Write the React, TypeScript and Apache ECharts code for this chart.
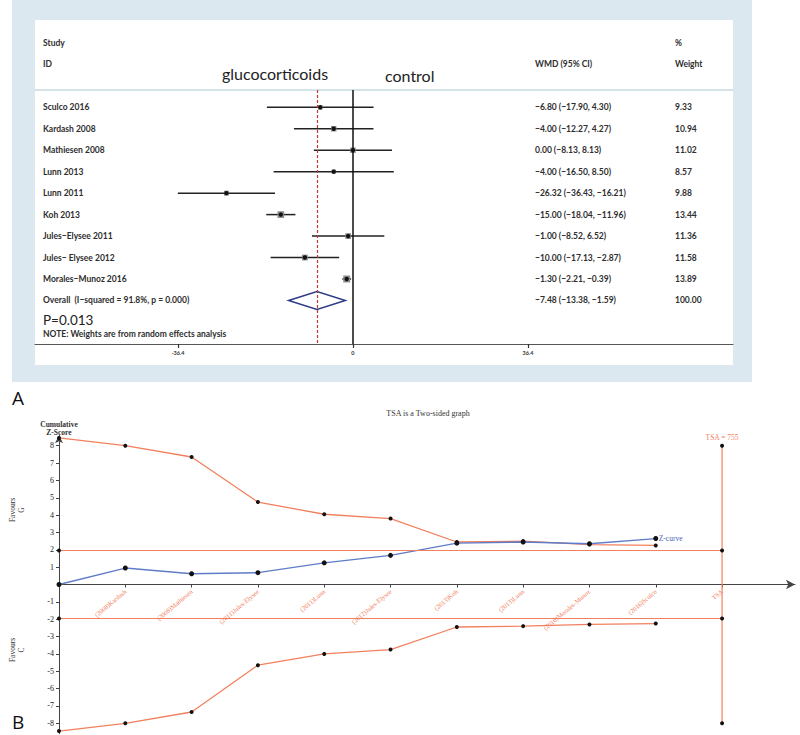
import React, { useEffect, useRef } from 'react';
import * as echarts from 'echarts';

// ---------- Panel A: forest plot data ----------
const studies = [
  'Sculco 2016',
  'Kardash 2008',
  'Mathiesen 2008',
  'Lunn 2013',
  'Lunn 2011',
  'Koh 2013',
  'Jules−Elysee 2011',
  'Jules− Elysee 2012',
  'Morales−Munoz 2016',
];
const estimates = [-6.8, -4.0, 0.0, -4.0, -26.32, -15.0, -1.0, -10.0, -1.3];
const ciLow = [-17.9, -12.27, -8.13, -16.5, -36.43, -18.04, -8.52, -17.13, -2.21];
const ciHigh = [4.3, 4.27, 8.13, 8.5, -16.21, -11.96, 6.52, -2.87, -0.39];
const weights = [9.33, 10.94, 11.02, 8.57, 9.88, 13.44, 11.36, 11.58, 13.89];
const overallLabel = 'Overall  (I−squared = 91.8%, p = 0.000)';
const overallEst = -7.48;
const overallLow = -13.38;
const overallHigh = -1.59;
const overallWeight = 100.0;
const forestTicks = [-36.4, 0, 36.4];

// ---------- Panel B: TSA data ----------
const tsaCategories = [
  '(2008)Kardash',
  '(2008)Mathiesen',
  '(2011)Jules-Elysee',
  '(2011)Lunn',
  '(2012)Jules-Elysee',
  '(2013)Koh',
  '(2013)Lunn',
  '(2016)Morales-Munoz',
  '(2016)Sculco',
  'TSA',
];
const upperBoundary = [8.45, 8.0, 7.35, 4.75, 4.05, 3.8, 2.45, 2.5, 2.3, 2.25];
const lowerBoundary = [-8.45, -8.0, -7.35, -4.65, -4.0, -3.75, -2.45, -2.4, -2.3, -2.25];
const zCurve = [0, 0.95, 0.62, 0.68, 1.25, 1.68, 2.38, 2.45, 2.35, 2.65];
const conventionalZ = 1.96;
const tsaIndex = 10;
const tsaBoundary = 8;
const tsaText = 'TSA = 755';
const zTicks = [-8, -7, -6, -5, -4, -3, -2, -1, 1, 2, 3, 4, 5, 6, 7, 8];

// ---------- helpers ----------
const fmt = (v: number) => (v < 0 ? '−' + Math.abs(v).toFixed(2) : v.toFixed(2));
const rowLabels = [...studies, overallLabel];
const wmdLabels = [
  ...estimates.map((e, i) => `${fmt(e)} (${fmt(ciLow[i])}, ${fmt(ciHigh[i])})`),
  `${fmt(overallEst)} (${fmt(overallLow)}, ${fmt(overallHigh)})`,
];
const weightLabels = [...weights, overallWeight].map((w) => w.toFixed(2));

const ROW_MIN = -0.806;
const ROW_MAX = 11.03;
const RED = '#f2805e';
const BLUE = '#5f7cc8';
const SERIF = 'Liberation Serif';

// TSA grid geometry
const TSA_TOP = 435.3;
const TSA_BOTTOM_Y = 733.7;
const Z_MIN = -8.6;
const Z_MAX = 8.6;
const zeroOffset = -((TSA_BOTTOM_Y - TSA_TOP) * (0 - Z_MIN)) / (Z_MAX - Z_MIN);

const boldSans = { fontFamily: 'Lato', fontWeight: 'bold' as const, fontSize: 8.5, color: '#2e2e2e' };

const textAxis = (gridIndex: number, labels: string[]) => ({
  type: 'value',
  gridIndex,
  position: 'right',
  min: ROW_MIN,
  max: ROW_MAX,
  inverse: true,
  axisLine: { show: false },
  axisTick: { show: false },
  splitLine: { show: false },
  axisLabel: {
    show: true,
    customValues: labels.map((_, i) => i),
    formatter: (v: number) => labels[Math.round(v)] ?? '',
    margin: 8,
    align: 'left',
    ...boldSans,
  },
});

const hiddenX = (gridIndex: number) => ({ type: 'value', gridIndex, show: false, min: 0, max: 1 });

const gtext = (x: number, y: number, text: string, style: any = {}, extra: any = {}) => ({
  type: 'text',
  x,
  y,
  z: 5,
  ...extra,
  style: {
    text,
    fill: '#2e2e2e',
    fontFamily: 'Lato',
    fontWeight: 'bold',
    fontSize: 8.5,
    align: 'left',
    verticalAlign: 'middle',
    ...style,
  },
});

function buildOption(): any {
  return {
    animation: false,
    title: {
      text: 'TSA is a Two-sided graph',
      left: 423,
      top: 404,
      textAlign: 'center',
      textStyle: { fontSize: 8, fontFamily: SERIF, fontWeight: 'normal', color: '#333' },
    },
    grid: [
      { left: 35, right: 67, top: 90, bottom: 391, outerBoundsMode: 'none', containLabel: false },
      { left: 0, width: 35, top: 90, bottom: 391, outerBoundsMode: 'none', containLabel: false },
      { left: 400, width: 127, top: 90, bottom: 391, outerBoundsMode: 'none', containLabel: false },
      { left: 600, width: 67, top: 90, bottom: 391, outerBoundsMode: 'none', containLabel: false },
      { left: 59, right: 5, top: TSA_TOP, bottom: 735 - TSA_BOTTOM_Y, outerBoundsMode: 'none', containLabel: false },
    ],
    xAxis: [
      {
        type: 'value',
        gridIndex: 0,
        min: -66.14,
        max: 79.06,
        axisLine: { show: true, onZero: false, lineStyle: { color: '#555', width: 1.2 } },
        axisTick: { show: true, customValues: forestTicks, length: 4, lineStyle: { color: '#333', width: 1.2 } },
        axisLabel: { show: true, customValues: forestTicks, fontSize: 5.5, color: '#333', margin: 6, fontFamily: 'Lato', fontWeight: 'bold' },
        splitLine: { show: false },
      },
      hiddenX(1),
      hiddenX(2),
      hiddenX(3),
      {
        type: 'value',
        gridIndex: 4,
        min: 0,
        max: 11.1,
        position: 'bottom',
        offset: zeroOffset,
        axisLine: {
          show: true,
          onZero: false,
          symbol: ['none', 'arrow'],
          symbolSize: [7, 9],
          lineStyle: { color: '#444', width: 1 },
        },
        axisTick: { show: true, customValues: tsaCategories.map((_, i) => i + 1), length: 3, lineStyle: { color: '#444' } },
        axisLabel: {
          show: true,
          customValues: tsaCategories.map((_, i) => i + 1),
          formatter: (v: number) => tsaCategories[Math.round(v) - 1] ?? '',
          rotate: 40,
          color: RED,
          fontSize: 6.5,
          fontFamily: SERIF,
          margin: 6,
        },
        splitLine: { show: false },
      },
    ],
    yAxis: [
      { type: 'value', gridIndex: 0, min: ROW_MIN, max: ROW_MAX, inverse: true, show: false },
      textAxis(1, rowLabels),
      textAxis(2, wmdLabels),
      textAxis(3, weightLabels),
      {
        type: 'value',
        gridIndex: 4,
        min: Z_MIN,
        max: Z_MAX,
        axisLine: {
          show: true,
          onZero: false,
          symbol: ['none', 'arrow'],
          symbolSize: [6, 8],
          lineStyle: { color: '#444', width: 1 },
        },
        axisTick: { show: true, customValues: zTicks, length: 3, lineStyle: { color: '#444' } },
        axisLabel: { show: true, customValues: zTicks, fontSize: 8, fontFamily: SERIF, color: '#222', margin: 5 },
        splitLine: { show: false },
      },
    ],
    series: [
      {
        type: 'custom',
        name: 'studies',
        xAxisIndex: 0,
        yAxisIndex: 0,
        encode: { x: [0, 1, 2], y: 3 },
        data: studies.map((_, i) => [ciLow[i], ciHigh[i], estimates[i], i, weights[i]]),
        renderItem: (params: any, api: any) => {
          const row = api.value(3);
          const lo = api.coord([api.value(0), row]);
          const hi = api.coord([api.value(1), row]);
          const c = api.coord([api.value(2), row]);
          const s = api.value(4) * 0.5;
          return {
            type: 'group',
            children: [
              { type: 'line', shape: { x1: lo[0], y1: lo[1], x2: hi[0], y2: hi[1] }, style: { stroke: '#222', lineWidth: 1.5 } },
              { type: 'rect', shape: { x: c[0] - s / 2, y: c[1] - s / 2, width: s, height: s }, style: { fill: '#8c8c8c' } },
              { type: 'circle', shape: { cx: c[0], cy: c[1], r: 2.2 }, style: { fill: '#111' } },
            ],
          };
        },
        markLine: {
          silent: true,
          symbol: ['none', 'none'],
          label: { show: false },
          data: [
            { xAxis: 0, lineStyle: { color: '#111', type: 'solid', width: 1.5 } },
            { xAxis: overallEst, lineStyle: { color: '#c0392b', type: [3, 2], width: 1.2 } },
          ],
        },
      },
      {
        type: 'custom',
        name: 'overall',
        xAxisIndex: 0,
        yAxisIndex: 0,
        encode: { x: [0, 1, 2], y: 3 },
        data: [[overallLow, overallEst, overallHigh, studies.length]],
        renderItem: (params: any, api: any) => {
          const row = api.value(3);
          const l = api.coord([api.value(0), row]);
          const m = api.coord([api.value(1), row]);
          const r = api.coord([api.value(2), row]);
          const h = 9;
          return {
            type: 'polygon',
            shape: { points: [[l[0], l[1]], [m[0], m[1] - h], [r[0], r[1]], [m[0], m[1] + h]] },
            style: { fill: 'rgba(255,255,255,0)', stroke: '#2c3c85', lineWidth: 1.5 },
          };
        },
      },
      {
        type: 'line',
        name: 'upper',
        xAxisIndex: 4,
        yAxisIndex: 4,
        data: upperBoundary.map((v, i) => [i, v]),
        symbol: 'circle',
        symbolSize: 4,
        itemStyle: { color: '#111' },
        lineStyle: { color: RED, width: 1.3 },
      },
      {
        type: 'line',
        name: 'lower',
        xAxisIndex: 4,
        yAxisIndex: 4,
        data: lowerBoundary.map((v, i) => [i, v]),
        symbol: 'circle',
        symbolSize: 4,
        itemStyle: { color: '#111' },
        lineStyle: { color: RED, width: 1.3 },
      },
      {
        type: 'line',
        name: 'zc',
        xAxisIndex: 4,
        yAxisIndex: 4,
        data: zCurve.map((v, i) => [i, v]),
        symbol: 'circle',
        symbolSize: 5,
        itemStyle: { color: '#111' },
        lineStyle: { color: BLUE, width: 1.3 },
        endLabel: { show: true, formatter: 'Z-curve', color: '#4a62b5', fontSize: 7.5, fontFamily: SERIF, distance: 3 },
      },
      {
        type: 'line',
        name: 'z+',
        xAxisIndex: 4,
        yAxisIndex: 4,
        data: [[0, conventionalZ], [tsaIndex, conventionalZ]],
        symbol: 'circle',
        symbolSize: 4,
        itemStyle: { color: '#111' },
        lineStyle: { color: RED, width: 1.2 },
      },
      {
        type: 'line',
        name: 'z-',
        xAxisIndex: 4,
        yAxisIndex: 4,
        data: [[0, -conventionalZ], [tsaIndex, -conventionalZ]],
        symbol: 'circle',
        symbolSize: 4,
        itemStyle: { color: '#111' },
        lineStyle: { color: RED, width: 1.2 },
      },
      {
        type: 'line',
        name: 'tsa',
        xAxisIndex: 4,
        yAxisIndex: 4,
        data: [
          {
            value: [tsaIndex, tsaBoundary],
            label: { show: true, position: 'top', formatter: tsaText, color: RED, fontSize: 7.5, fontFamily: SERIF, distance: 2 },
          },
          { value: [tsaIndex, -tsaBoundary] },
        ],
        symbol: 'circle',
        symbolSize: 4,
        itemStyle: { color: '#111' },
        lineStyle: { color: RED, width: 1.2 },
      },
    ],
    graphic: [
      { type: 'rect', z: -10, shape: { x: 12, y: 0, width: 740, height: 382 }, style: { fill: '#dce8ef' } },
      { type: 'rect', z: -9, shape: { x: 35, y: 20, width: 698, height: 345 }, style: { fill: '#ffffff' } },
      { type: 'line', z: 1, shape: { x1: 35, y1: 90, x2: 733, y2: 90 }, style: { stroke: '#c8d8e2', lineWidth: 1.5 } },
      gtext(43, 43, 'Study'),
      gtext(43, 64, 'ID'),
      gtext(275, 73, 'glucocorticoids', { fontSize: 16, fontWeight: 'normal', align: 'center', fill: '#222' }),
      gtext(385, 75, 'control', { fontSize: 16, fontWeight: 'normal', fill: '#222' }),
      gtext(535, 64, 'WMD (95% CI)'),
      gtext(675, 43, '%'),
      gtext(675, 64, 'Weight'),
      gtext(43, 320, 'P=0.013', { fontSize: 13.5, fontWeight: 'normal', fill: '#222' }),
      gtext(43, 334, 'NOTE: Weights are from random effects analysis'),
      gtext(12, 398, 'A', { fontSize: 19, fontWeight: 'normal', fontFamily: 'Open Sans', fill: '#111' }),
      gtext(12, 722, 'B', { fontSize: 19, fontWeight: 'normal', fontFamily: 'Open Sans', fill: '#111' }),
      gtext(59, 428, 'Cumulative\nZ-Score', { fontSize: 7.5, fontFamily: SERIF, fontWeight: 'bold', align: 'center', lineHeight: 8, fill: '#333' }),
      gtext(17, 510, 'Favours\nG', { fontSize: 7.5, fontFamily: SERIF, fontWeight: 'normal', align: 'center', lineHeight: 9, fill: '#333' }, { rotation: Math.PI / 2 }),
      gtext(17, 650, 'Favours\nC', { fontSize: 7.5, fontFamily: SERIF, fontWeight: 'normal', align: 'center', lineHeight: 9, fill: '#333' }, { rotation: Math.PI / 2 }),
    ],
  };
}

export default function App() {
  const ref = useRef<HTMLDivElement>(null);
  useEffect(() => {
    if (!ref.current) return;
    const chart = echarts.init(ref.current, null, { renderer: 'svg' });
    chart.setOption(buildOption());
    return () => chart.dispose();
  }, []);
  return (
    <div
      ref={ref}
      style={{ position: 'absolute', left: 0, top: 0, width: 800, height: 735, background: '#ffffff' }}
    />
  );
}
